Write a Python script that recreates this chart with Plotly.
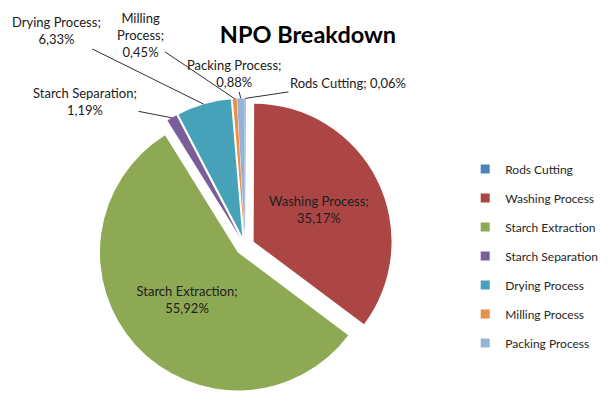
import math
import plotly.graph_objects as go

labels = ["Rods Cutting", "Washing Process", "Starch Extraction", "Starch Separation",
          "Drying Process", "Milling Process", "Packing Process"]
values = [0.06, 35.17, 55.92, 1.19, 6.33, 0.45, 0.88]
label_text = ["Rods Cutting; 0,06%", "Washing Process;<br>35,17%", "Starch Extraction;<br>55,92%",
              "Starch Separation;<br>1,19%", "Drying Process;<br>6,33%", "Milling<br>Process;<br>0,45%",
              "Packing Process;<br>0,88%"]
colors = ["#4F81BD", "#AC4644", "#8DA954", "#7A5E9A", "#46A2B8", "#E98F46", "#95B3D7"]

# the page body keeps its default 8px margin, so the figure is sized to fit the window
W, H = 600, 393
PULL = 0.07
DOM_X = [0.135, 0.655]
DOM_Y = [0.019, 0.77]
FONT = "Lato"

inside = [v > 20 for v in values]

fig = go.Figure()
fig.add_trace(go.Pie(
    labels=labels, values=values, text=label_text,
    texttemplate=["%{text}" if i else "" for i in inside],
    textposition=["inside" if i else "none" for i in inside],
    insidetextorientation="horizontal",
    sort=False, direction="clockwise", rotation=0,
    pull=[PULL] * len(values),
    marker=dict(colors=colors, line=dict(color="white", width=0)),
    insidetextfont=dict(family=FONT, size=13, color="#202020"),
    domain=dict(x=DOM_X, y=DOM_Y),
    automargin=False, showlegend=False, hoverinfo="label+percent",
))

# legend entries (small squares, spaced like the reference)
for lab, col in zip(labels, colors):
    fig.add_trace(go.Scatter(
        x=[None], y=[None], mode="markers", name=lab, legendgroup=lab,
        marker=dict(symbol="square", size=9, color=col), showlegend=True,
    ))

# pie geometry (as plotly computes it) to attach leader lines of outside labels
box_w = W * (DOM_X[1] - DOM_X[0])
box_h = H * (DOM_Y[1] - DOM_Y[0])
r = min(box_w, box_h) / (2 + 2 * PULL)
cx = W * (DOM_X[0] + DOM_X[1]) / 2
cy = H * (1 - DOM_Y[0]) - box_h / 2
total = sum(values)

# where each outside label block sits (pixel centre)
label_pos = {
    "Rods Cutting": (340, 75),
    "Starch Separation": (77, 93),
    "Drying Process": (48, 23),
    "Milling Process": (132, 27),
    "Packing Process": (226, 66),
}

annotations = []
cum = 0.0
for lab, v, txt in zip(labels, values, label_text):
    mid = (cum + v / 2) / total * 2 * math.pi
    cum += v
    if lab not in label_pos:
        continue
    R = r * (1 + PULL)
    px = cx + R * math.sin(mid)
    py = cy - R * math.cos(mid)
    lx, ly = label_pos[lab]
    annotations.append(dict(
        x=px / W, y=1 - py / H, xref="paper", yref="paper",
        ax=lx - px, ay=ly - py, text=txt, showarrow=True, arrowhead=0,
        arrowwidth=1, arrowcolor="#303030", standoff=0, align="center",
        font=dict(family=FONT, size=13, color="#202020"),
    ))

fig.update_layout(
    width=W, height=H,
    margin=dict(l=0, r=0, t=0, b=0),
    paper_bgcolor="white", plot_bgcolor="white",
    xaxis=dict(visible=False), yaxis=dict(visible=False),
    title=dict(text="<b>NPO Breakdown</b>", x=0.5, xanchor="center", y=0.931, yanchor="middle",
               font=dict(family=FONT, size=23.5, color="#000000")),
    legend=dict(x=0.762, y=0.369, xanchor="left", yanchor="middle",
                font=dict(family=FONT, size=12, color="#262626"), itemwidth=30,
                tracegroupgap=10, borderwidth=0),
    annotations=annotations,
    showlegend=True,
)

fig.write_html("out.html")
